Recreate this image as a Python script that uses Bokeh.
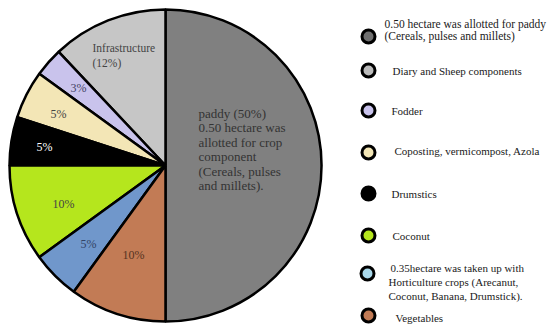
import math
from bokeh.plotting import figure
from bokeh.models import Range1d
from bokeh.core.properties import value
from bokeh.embed import file_html
from bokeh.resources import INLINE

# ---- data ----
categories = ["paddy", "Infrastructure", "Fodder", "Coposting", "Drumstics",
              "Coconut", "Horticulture", "Vegetables"]
shares = [50, 12, 3, 5, 5, 10, 5, 10]
slice_colors = ["#808080", "#c6c6c6", "#c9c3ec", "#f3e6b6", "#000000",
                "#b5e61d", "#7097cb", "#c27b55"]
slice_labels = [
    ["paddy (50%)", "0.50 hectare was", "allotted for crop", "component",
     "(Cereals, pulses", "and millets)."],
    ["Infrastructure", "(12%)"],
    ["3%"], ["5%"], ["5%"], ["10%"], ["5%"], ["10%"],
]
label_colors = ["#333333", "#444444", "#444466", "#444444", "#ffffff",
                "#444444", "#334466", "#553322"]

legend_labels = [
    ["0.50 hectare was allotted for paddy", "(Cereals, pulses and millets)"],
    ["Diary and Sheep components"],
    ["Fodder"],
    ["Coposting, vermicompost, Azola"],
    ["Drumstics"],
    ["Coconut"],
    ["0.35hectare was taken up with", "Horticulture crops (Arecanut,",
     "Coconut, Banana, Drumstick)."],
    ["Vegetables"],
]
legend_colors = ["#707070", "#bcbcbc", "#c9c3ec", "#f3e6b6", "#000000",
                 "#b5e61d", "#a9d8ea", "#c27b55"]

# ---- layout ----
W, H = 547, 326
cx, cy, r = 165, H - 165, 156
font = value("Liberation Serif")

p = figure(width=W, height=H, output_backend="svg", toolbar_location=None,
           x_range=Range1d(0, W), y_range=Range1d(0, H), min_border=0)
p.axis.visible = False
p.grid.visible = False
p.outline_line_color = None
p.background_fill_color = "white"

# wedges: paddy spans right half, others go counter-clockwise from top
total = float(sum(shares))
starts, ends = [], []
a = -math.pi / 2
for s in shares:
    ang = 2 * math.pi * s / total
    starts.append(a)
    ends.append(a + ang)
    a += ang
p.wedge(x=cx, y=cy, radius=r, start_angle=starts, end_angle=ends,
        fill_color=slice_colors, line_color="black", line_width=2.5)

# slice label positions (pixel coords from top-left)
label_pos = [(198, 113), (92, 47), (70, 87), (50, 113), (36, 146),
             (52, 203), (80, 243), (122, 254)]
label_sizes = ["13px", "11.5px", "12px", "12px", "12px", "12px", "12px", "12px"]
line_step = [14.4, 15, 0, 0, 0, 0, 0, 0]
for lines, (lx, ly), step, col, fs in zip(slice_labels, label_pos, line_step,
                                          label_colors, label_sizes):
    xs = [lx] * len(lines)
    ys = [H - (ly + i * step) for i in range(len(lines))]
    p.text(x=xs, y=ys, text=lines, text_font=font, text_font_size=fs,
           text_color=col, text_baseline="middle", text_align="left")

# legend
marker_pos = [(368, 36), (368, 70), (368, 110), (368, 152), (368, 193),
              (368, 235), (367, 273), (368, 315)]
text_pos = [(384, 23), (392, 70), (391, 110), (394, 150), (391, 193),
            (392, 235), (388, 267), (395, 317)]
text_sizes = ["11.5px", "11px", "11px", "11px", "11px", "11px", "11px", "11px"]
text_step = [12.5, 0, 0, 0, 0, 0, 14, 0]
text_dx = [[0, 0], [0], [0], [0], [0], [0], [2, 0, 0], [0]]
p.scatter(x=[m[0] for m in marker_pos], y=[H - m[1] for m in marker_pos],
          marker="circle", size=13, fill_color=legend_colors,
          line_color="black", line_width=3)
for lines, (tx, ty), step, dxs, fs in zip(legend_labels, text_pos, text_step,
                                          text_dx, text_sizes):
    xs = [tx + dxs[i] for i in range(len(lines))]
    ys = [H - (ty + i * step) for i in range(len(lines))]
    p.text(x=xs, y=ys, text=lines, text_font=font, text_font_size=fs,
           text_color="#1a1a1a", text_baseline="middle", text_align="left")

open("out.html", "w").write(file_html(p, INLINE))
